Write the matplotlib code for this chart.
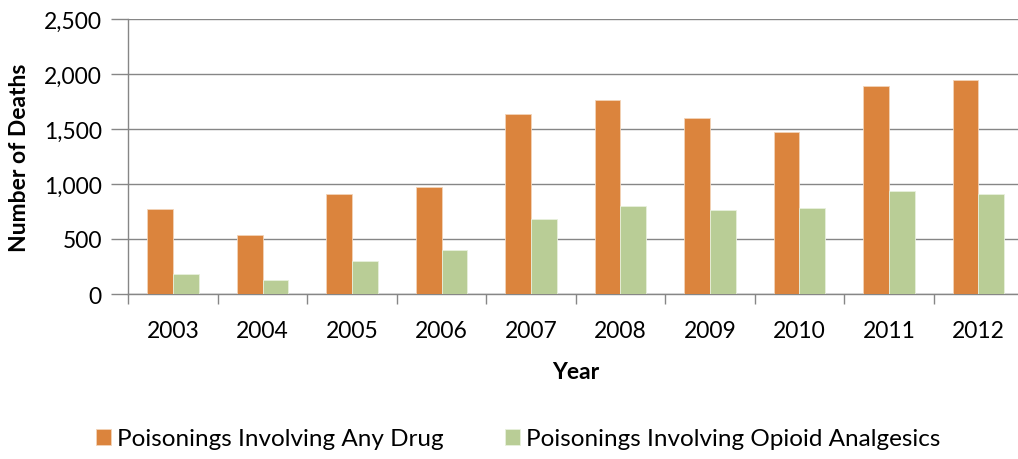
import matplotlib
matplotlib.use("Agg")
import matplotlib.pyplot as plt
import numpy as np
from matplotlib.ticker import FuncFormatter

plt.rcParams['font.family'] = ['Lato', 'DejaVu Sans']

years = ["2003", "2004", "2005", "2006", "2007", "2008", "2009", "2010", "2011", "2012"]
any_drug = [775, 540, 910, 975, 1635, 1765, 1600, 1470, 1895, 1950]
opioid = [180, 125, 300, 400, 685, 800, 760, 780, 935, 910]
series_names = ["Poisonings Involving Any Drug", "Poisonings Involving Opioid Analgesics"]
y_ticks = [0, 500, 1000, 1500, 2000, 2500]

orange = "#DB843D"
green = "#B9CD96"
grid_gray = "#868686"

W, H = 1018, 460
fig = plt.figure(figsize=(W / 100, H / 100), dpi=100)
left, right = 128.3, 1023.2
top, bottom = 20, 295
ax = fig.add_axes([left / W, (H - bottom) / H, (right - left) / W, (bottom - top) / H])

x = np.arange(len(years))
bw = 0.287
ax.bar(x - bw / 2, any_drug, bw, color=orange, edgecolor="#F3D3B8", linewidth=0.6,
       label=series_names[0], zorder=3)
ax.bar(x + bw / 2, opioid, bw, color=green, edgecolor="#E8F0DC", linewidth=0.6,
       label=series_names[1], zorder=3)

ax.set_xlim(-0.5, len(years) - 0.5)
ax.set_ylim(0, 2500)
ax.set_yticks(y_ticks)
ax.yaxis.set_major_formatter(FuncFormatter(lambda v, p: f"{int(v):,}"))
ax.grid(axis="y", color=grid_gray, linewidth=1.0, zorder=0)

# category labels centred, tick marks on the category boundaries
ax.set_xticks(x)
ax.set_xticklabels(years)
ax.set_xticks(np.arange(len(years) + 1) - 0.5, minor=True)
ax.tick_params(axis="x", which="major", length=0, pad=19, labelsize=16.5)
ax.tick_params(axis="x", which="minor", length=7, width=1.0, color=grid_gray)
ax.tick_params(axis="y", length=12, width=1.0, color=grid_gray, pad=7, labelsize=16.5)

for s in ["top", "right"]:
    ax.spines[s].set_visible(False)
for s in ["left", "bottom"]:
    ax.spines[s].set_color(grid_gray)
    ax.spines[s].set_linewidth(1.0)

ax.set_xlabel("Year", fontsize=16.5, fontweight="bold", labelpad=14)
ax.set_ylabel("Number of Deaths", fontsize=16.5, fontweight="bold", labelpad=10)

leg = fig.legend(loc="center", bbox_to_anchor=(0.509, (H - 440) / H), ncol=2, frameon=False,
                 fontsize=17.5, handlelength=0.62, handleheight=0.62, handletextpad=0.25,
                 columnspacing=2.5)

fig.savefig("out.png", dpi=100)
